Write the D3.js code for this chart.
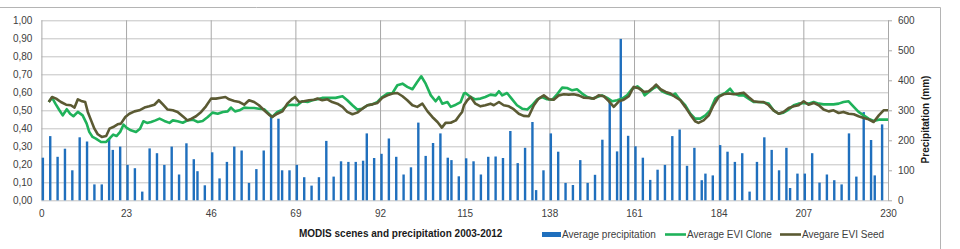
<!DOCTYPE html>
<html>
<head>
<meta charset="utf-8">
<script src="https://cdn.jsdelivr.net/npm/d3@7"></script>
<style>
  body { margin: 0; background: #fff; }
  svg { display: block; font-family: "Liberation Sans", Arial, sans-serif; }
</style>
</head>
<body>
<div id="chart"></div>
<script>
// monthly precipitation, placed at MODIS scene index
const precipIdx = [0,2,4,6,8,10,12,14,16,18,19,21,23,25,27,29,31,33,35,37,39,41,42,44,46,48,50,52,54,56,
  58,60,62,64,65,67,69,71,73,75,77,79,81,83,85,87,88,90,92,94,96,98,100,102,104,106,108,110,111,113,
  115,117,119,121,123,125,127,129,131,133,134,136,138,140,142,144,146,148,150,152,154,156,157,159,161,163,165,167,169,171,
  173,175,177,179,180,182,184,186,188,190,192,194,196,198,200,202,203,205,207,209,211,213,215,217,219,221,223,225,226,228];
const precipMm = [142,214,145,172,100,210,196,53,53,205,168,179,118,107,29,173,157,118,179,86,190,137,97,50,160,73,128,179,166,58,
  104,166,281,272,100,100,118,77,49,77,198,79,130,128,128,132,223,141,155,206,145,86,110,259,148,191,223,142,134,80,
  140,130,86,145,146,141,231,124,175,261,34,100,223,162,58,51,134,58,85,202,328,163,538,215,180,142,68,102,118,214,
  236,115,175,67,89,83,184,162,128,157,29,128,210,168,100,175,41,89,89,157,59,86,67,53,223,79,294,201,83,253];

// EVI clone
const cloneIdx = [2,2.9,3.8,4.9,5.8,6.9,7.8,8.7,9.9,11.2,12.3,13,13.9,14.8,16.2,17.6,18.6,19.5,20.4,21.4,22.3,23.2,24.3,25.7,26.8,27.7,28.7,29.8,31,32.1,
  33.4,34.8,35.7,37,38.4,39.7,41.1,42.5,43.8,45.2,46.5,47.9,49.3,50.6,51.5,52.6,53.8,55.1,56.4,57.8,59.1,60.5,61.8,62.7,64.1,65.5,66.8,68.2,69.5,70.9,
  72.3,73.6,75,76.3,78.1,79.9,81.8,83.1,84.5,85.8,87.2,88.6,89.9,91.3,92.6,94,95.4,96.7,98.1,99.4,100.8,102.1,103.2,104.4,105.8,107.1,108,108.9,110.3,111.2,
  112.6,113.9,114.8,115.2,116.6,117.9,119.3,120.6,122,123.4,124.3,125.2,126.5,127.9,129.2,130.6,132,133.3,134.7,136,137.4,138.8,140.1,141.5,142.8,144.2,145.5,146.9,148.3,149.6,
  151,152.3,153.7,155.1,156.4,157.8,159.1,160.5,161.9,163.2,163.9,165,166.4,167.3,168.6,170,171.4,172.2,173.6,174.9,176.3,177.6,179,180.4,181.7,183.1,184.4,185.8,187.1,188.1,
  189.4,190.8,192.1,193.5,194.8,196.2,197.6,198.9,200.3,201.6,203,204.4,205.7,207.1,208.4,209.8,211.2,212.5,213.9,215.2,216.6,217.9,219.3,220.7,222,223.4,224.7,226.1,227.5,228.8,230];
const cloneEvi = [.546,.57,.537,.5,.472,.506,.481,.467,.491,.472,.426,.38,.352,.343,.324,.324,.346,.365,.357,.38,.42,.402,.389,.38,.398,.439,.43,.435,.444,.454,
  .441,.43,.444,.439,.431,.444,.448,.435,.441,.463,.487,.481,.491,.494,.515,.494,.5,.515,.513,.513,.509,.506,.481,.463,.491,.504,.528,.531,.528,.55,
  .546,.556,.561,.569,.569,.569,.578,.556,.528,.504,.509,.528,.533,.546,.574,.593,.596,.639,.648,.63,.617,.657,.689,.648,.583,.55,.574,.537,.546,.519,
  .531,.546,.593,.596,.574,.561,.565,.574,.587,.583,.606,.583,.596,.561,.528,.509,.504,.528,.561,.574,.561,.559,.589,.626,.624,.611,.617,.593,.574,.565,
  .574,.583,.569,.55,.556,.565,.583,.62,.633,.611,.583,.602,.624,.633,.606,.593,.583,.593,.556,.528,.481,.454,.454,.472,.5,.565,.583,.596,.62,.593,
  .583,.583,.565,.546,.546,.543,.537,.5,.481,.487,.504,.528,.537,.541,.537,.546,.537,.533,.533,.533,.537,.546,.55,.519,.491,.472,.454,.441,.448,.448,.448];

// EVI seed
const seedIdx = [2,2.9,4,5.3,6.7,8,9,9.9,10.8,11.9,12.6,13.5,14.4,15.3,16.4,17.6,18.5,19.5,20.7,21.6,22.8,23.9,25.3,26.6,28,29.3,30.7,31.9,33,34.3,
  35.7,37,38.4,39.7,40.8,42,43.4,44.7,46.1,47.4,48.8,50,51,52.4,53.8,55.1,56.4,57.8,59.1,60.5,61.8,62.7,64.1,65.5,66.8,68,68.9,70,71.3,72.7,
  74.1,75,76.3,77.7,79,80.4,81.8,83.1,84.5,85.8,87.2,88.6,89.9,91.3,92.6,94,95.4,96.7,98.1,99.4,100.8,102.1,103.5,104.9,106.2,107.6,108.8,109.8,111.2,112.6,
  113.6,114.3,114.8,115.7,116.6,117.9,119.3,120.6,122,122.9,124.3,125.6,127,128.3,129.7,131,132.4,133.8,135.1,136.5,137.9,139.2,140.6,141.9,143.3,144.6,146,147.4,148.7,150.1,
  151.4,152.8,154.2,155.5,156.9,158.2,159.6,160.9,162.3,163.7,165,166.4,167,168.2,169.6,170.9,172.2,173.6,174.9,176.3,177.6,178.5,179.9,181.3,182.6,184,185.3,186.7,188.1,189.4,
  190.8,192.1,193.5,194.8,196.2,197.6,198.9,200.3,201.6,203,204.4,205.7,207.1,208.4,209.8,211.2,212.5,213.9,215.2,216.6,217.9,219.3,220.7,222,223.4,224.7,226.1,227.5,228.8,230];
const seedEvi = [.546,.574,.565,.546,.531,.528,.515,.561,.552,.546,.491,.444,.398,.367,.352,.357,.398,.407,.422,.426,.463,.481,.494,.5,.515,.522,.531,.556,.533,.504,
  .5,.491,.467,.444,.454,.467,.491,.522,.565,.565,.57,.574,.561,.552,.546,.531,.556,.546,.528,.5,.476,.463,.481,.494,.537,.561,.574,.546,.55,.556,
  .559,.565,.556,.561,.546,.537,.519,.491,.478,.487,.509,.528,.533,.541,.569,.583,.593,.596,.578,.556,.528,.519,.537,.494,.463,.435,.404,.43,.431,.444,
  .472,.491,.528,.556,.574,.537,.522,.528,.537,.528,.546,.528,.522,.506,.481,.469,.467,.528,.565,.583,.561,.559,.583,.589,.587,.589,.583,.57,.569,.565,
  .583,.578,.55,.519,.55,.559,.578,.63,.622,.602,.606,.63,.643,.617,.602,.593,.574,.556,.519,.476,.439,.43,.444,.472,.528,.574,.589,.593,.589,.593,
  .598,.574,.55,.546,.546,.528,.5,.481,.491,.513,.522,.528,.55,.531,.541,.528,.504,.494,.5,.485,.491,.481,.478,.467,.457,.45,.435,.472,.5,.5];

const xTicks = [0,23,46,69,92,115,138,161,184,207,230];
const eviTicks = [0,.1,.2,.3,.4,.5,.6,.7,.8,.9,1];
const mmTicks = [0,100,200,300,400,500,600];
const legendNames = ["Average precipitation","Average EVI Clone","Avegare EVI Seed"];
const xTitle = "MODIS scenes and precipitation 2003-2012";
const yRightTitle = "Precipitation (mm)";

const dim = {width: 960, height: 249};
const plot = {left: 41.4, right: 888, top: 20.3, bottom: 200.3};
const colors = {bar: "#1f6fbd", clone: "#1fb25a", seed: "#5b5a33"};

let svg = d3.select('#chart').append('svg').attr('width', dim.width).attr('height', dim.height);

// outer chart frame (top and right edges only visible)
svg.append('path')
  .attr('d', `M0,7.5H940.5V${dim.height}`)
  .attr('fill', 'none').attr('stroke', '#b4b4b4').attr('stroke-width', 1);

let x = d3.scaleLinear().domain([0, 230]).range([plot.left, plot.right]);
let yEvi = d3.scaleLinear().domain([0, 1]).range([plot.bottom, plot.top]);
let yMm = d3.scaleLinear().domain([0, 600]).range([plot.bottom, plot.top]);

// left axis + horizontal grid
let gLeft = svg.append('g').attr('transform', `translate(${plot.left},0)`)
  .call(d3.axisLeft(yEvi).tickValues(eviTicks)
    .tickFormat(d => d.toFixed(2).replace('.', ','))
    .tickSize(-(plot.right - plot.left)).tickPadding(9));
gLeft.select('.domain').remove();
gLeft.selectAll('.tick line').attr('stroke', '#c4c4c4');
gLeft.selectAll('.tick text').attr('fill', '#404040').style('font-size', '10px');

// bottom axis + vertical grid
let gBottom = svg.append('g').attr('transform', `translate(0,${plot.bottom})`)
  .call(d3.axisBottom(x).tickValues(xTicks)
    .tickSize(-(plot.bottom - plot.top)).tickPadding(10));
gBottom.select('.domain').remove();
gBottom.selectAll('.tick line').attr('stroke', '#a8a8a8');
gBottom.selectAll('.tick text').attr('fill', '#404040').style('font-size', '10px');

// right axis
let gRight = svg.append('g').attr('transform', `translate(${plot.right},0)`)
  .call(d3.axisRight(yMm).tickValues(mmTicks).tickSizeInner(4).tickSizeOuter(0).tickPadding(6));
gRight.select('.domain').attr('stroke', '#a8a8a8');
gRight.selectAll('.tick line').attr('stroke', '#a8a8a8');
gRight.selectAll('.tick text').attr('fill', '#404040').style('font-size', '10px');

// precipitation bars
const barW = 2.4;
svg.append('g').selectAll('rect')
  .data(precipIdx.map((d, i) => ({i: d, v: precipMm[i]})))
  .enter().append('rect')
  .attr('x', d => x(d.i + 0.4) - barW / 2)
  .attr('y', d => yMm(d.v))
  .attr('width', barW)
  .attr('height', d => yMm(0) - yMm(d.v))
  .attr('fill', colors.bar);

// EVI lines
let line = d3.line().x(d => x(d[0])).y(d => yEvi(d[1])).curve(d3.curveLinear);
svg.append('path')
  .datum(cloneIdx.map((d, i) => [d, cloneEvi[i]]))
  .attr('d', line).attr('fill', 'none')
  .attr('stroke', colors.clone).attr('stroke-width', 2.6).attr('stroke-linejoin', 'round');
svg.append('path')
  .datum(seedIdx.map((d, i) => [d, seedEvi[i]]))
  .attr('d', line).attr('fill', 'none')
  .attr('stroke', colors.seed).attr('stroke-width', 2.6).attr('stroke-linejoin', 'round');

// titles
svg.append('text')
  .attr('x', 299).attr('y', 237)
  .attr('font-size', '10px').attr('font-weight', 'bold').attr('fill', '#1a1a1a')
  .text(xTitle);
svg.append('text')
  .attr('transform', `translate(929,${(77 + 162) / 2}) rotate(-90)`)
  .attr('text-anchor', 'middle')
  .attr('font-size', '10px').attr('font-weight', 'bold').attr('fill', '#1a1a1a')
  .text(yRightTitle);

// legend
const legendX = [542, 665, 780];
let leg = svg.append('g').selectAll('g').data(legendNames).enter().append('g')
  .attr('transform', (d, i) => `translate(${legendX[i]},234.5)`);
leg.each(function(d, i) {
  let g = d3.select(this);
  if (i === 0) {
    g.append('rect').attr('x', 0).attr('y', -2.5).attr('width', 19).attr('height', 5).attr('fill', colors.bar);
  } else {
    g.append('line').attr('x1', 0).attr('x2', 21).attr('y1', 0).attr('y2', 0)
      .attr('stroke', i === 1 ? colors.clone : colors.seed).attr('stroke-width', 2.6);
  }
  g.append('text').attr('x', i === 0 ? 20 : 22).attr('y', 3.5)
    .attr('font-size', '10px').attr('fill', '#404040').text(d);
});
</script>
</body>
</html>
